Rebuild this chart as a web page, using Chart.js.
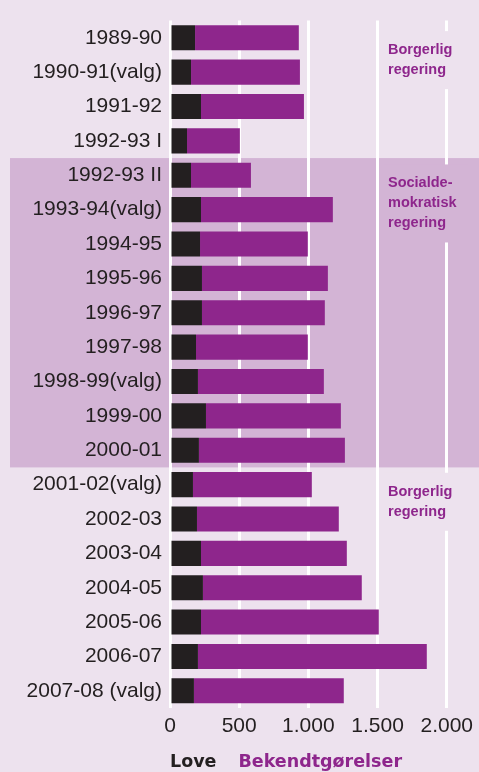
<!DOCTYPE html>
<html lang="da">
<head>
<meta charset="UTF-8" />
<title>Love og bekendtgørelser</title>
<style>
  body { margin: 0; background: #EDE2EE; }
  .wrap { width: 479px; height: 772px; position: relative; }
</style>
<script src="https://cdn.jsdelivr.net/npm/chart.js"></script>
</head>
<body>
<div class="wrap"><canvas id="chart"></canvas></div>
<script>
  // folketingsår
  const years = ["1989-90", "1990-91(valg)", "1991-92", "1992-93 I", "1992-93 II",
    "1993-94(valg)", "1994-95", "1995-96", "1996-97", "1997-98", "1998-99(valg)",
    "1999-00", "2000-01", "2001-02(valg)", "2002-03", "2003-04", "2004-05",
    "2005-06", "2006-07", "2007-08 (valg)"];
  const love = [181, 152, 224, 123, 152, 224, 217, 231, 231, 188, 202, 260, 209,
    166, 195, 224, 238, 224, 202, 173];
  const bekendtgorelser = [750, 787, 744, 382, 433, 953, 779, 910, 888, 808, 910,
    975, 1055, 859, 1025, 1054, 1148, 1285, 1654, 1083];
  const tickValues = [0, 500, 1000, 1500, 2000];

  // regeringsperioder (tekst i højre side)
  const govLabels = [
    { lines: ["Borgerlig", "regering"], row: 0.65 },
    { lines: ["Socialde-", "mokratisk", "regering"], row: 4.82 },
    { lines: ["Borgerlig", "regering"], row: 13.5 }
  ];
  const socFirstRow = 4, socLastRow = 12;

  const BG = "#EDE2EE", BAND = "#D3B4D5", PURPLE = "#8E268C", DARK = "#231F20";

  const fmt = v => String(v).replace(/\B(?=(\d{3})+(?!\d))/g, ".");

  const decor = {
    id: "decor",
    beforeDraw(chart) {
      const { ctx, scales: { y } } = chart;
      const half = (y.getPixelForValue(1) - y.getPixelForValue(0)) / 2;
      const top = y.getPixelForValue(socFirstRow) - half;
      const bottom = y.getPixelForValue(socLastRow) + half;
      ctx.save();
      ctx.fillStyle = BAND;
      ctx.fillRect(10, top, chart.width - 10, bottom - top);
      ctx.restore();
    },
    beforeDatasetsDraw(chart) {
      const { ctx, scales: { y } } = chart;
      ctx.save();
      ctx.font = "bold 14.5px 'Liberation Sans', Arial, sans-serif";
      ctx.textBaseline = "middle";
      govLabels.forEach(g => {
        const cy = y.getPixelForValue(g.row);
        const h = g.lines.length * 20 + 18;
        const inBand = g.row > socFirstRow - 0.5 && g.row < socLastRow + 0.5;
        ctx.fillStyle = inBand ? BAND : BG;
        ctx.fillRect(384, cy - h / 2, 84, h);
        ctx.fillStyle = PURPLE;
        g.lines.forEach((t, i) => {
          ctx.fillText(t, 388, cy + (i - (g.lines.length - 1) / 2) * 20);
        });
      });
      ctx.restore();
    },
    afterDraw(chart) {
      const { ctx, chartArea } = chart;
      ctx.save();
      ctx.font = "bold 17.5px 'DejaVu Sans', sans-serif";
      ctx.textBaseline = "alphabetic";
      let x = chartArea.left;
      chart.data.datasets.forEach(ds => {
        ctx.fillStyle = ds.backgroundColor;
        ctx.fillText(ds.label, x, 767);
        x += ctx.measureText(ds.label).width + 22;
      });
      ctx.restore();
    }
  };

  new Chart(document.getElementById("chart"), {
    type: "bar",
    data: {
      labels: years,
      datasets: [
        { label: "Love", data: love, backgroundColor: DARK },
        { label: "Bekendtgørelser", data: bekendtgorelser, backgroundColor: PURPLE }
      ]
    },
    options: {
      indexAxis: "y",
      responsive: true,
      maintainAspectRatio: false,
      animation: false,
      layout: { padding: { top: 20, left: 0, right: 0, bottom: 0 } },
      datasets: { bar: { barPercentage: 0.73, categoryPercentage: 1 } },
      plugins: {
        legend: { display: false },
        tooltip: { enabled: false }
      },
      scales: {
        x: {
          stacked: true,
          min: 0,
          max: 2231,
          afterBuildTicks: s => { s.ticks = tickValues.map(v => ({ value: v })); },
          afterFit: s => { s.height = 64; },
          grid: { color: "#FFFFFF", lineWidth: 3, drawTicks: false },
          border: { display: false },
          ticks: {
            padding: 6,
            color: DARK,
            font: { family: "'Liberation Sans', Arial, sans-serif", size: 21 },
            callback: v => fmt(v)
          }
        },
        y: {
          stacked: true,
          afterFit: s => { s.width = 170; },
          grid: { display: false, drawTicks: false },
          border: { display: false },
          ticks: {
            padding: 8,
            color: DARK,
            font: { family: "'Liberation Sans', Arial, sans-serif", size: 21 }
          }
        }
      }
    },
    plugins: [decor]
  });
</script>
</body>
</html>
